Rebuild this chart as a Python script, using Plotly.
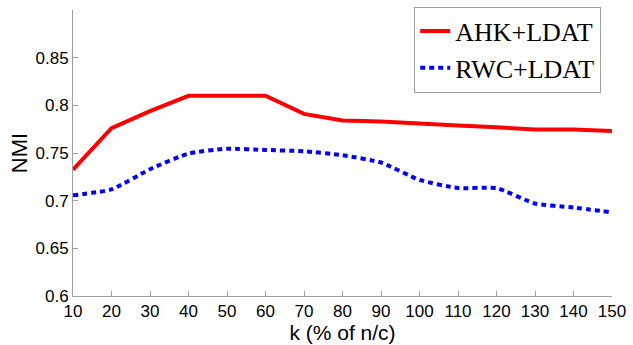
import plotly.graph_objects as go

# k values (% of n/c)
k_values = [10, 20, 30, 40, 50, 60, 70, 80, 90, 100, 110, 120, 130, 140, 150]

# NMI for each method
ahk_ldat = [0.7325, 0.776, 0.794, 0.81, 0.81, 0.81, 0.791, 0.784, 0.783,
            0.7806, 0.7788, 0.777, 0.7746, 0.7746, 0.773]
rwc_ldat = [0.7056, 0.7118, 0.733, 0.7494, 0.7545, 0.7532, 0.7518, 0.7477, 0.740,
            0.7218, 0.7132, 0.7132, 0.697, 0.6928, 0.6877]

y_ticks = [0.6, 0.65, 0.7, 0.75, 0.8, 0.85]
y_tick_text = ["0.6", "0.65", "0.7", "0.75", "0.8", "0.85"]

fig = go.Figure()
fig.add_trace(go.Scatter(
    x=k_values, y=ahk_ldat, mode="lines", name="AHK+LDAT",
    line=dict(color="#ff0000", width=4),
))
fig.add_trace(go.Scatter(
    x=k_values, y=rwc_ldat, mode="lines", name="RWC+LDAT",
    line=dict(color="#0000ff", width=4, dash="5px,4px", shape="spline", smoothing=0.5),
))

axis_common = dict(
    showgrid=False, zeroline=False, showline=True, linecolor="#a0a0a0", linewidth=1,
    ticks="inside", ticklen=5, tickcolor="#a0a0a0", mirror=False,
    tickfont=dict(family="Liberation Sans, Arial, sans-serif", size=17, color="#000000"),
)

fig.update_layout(
    width=633, height=345,
    margin=dict(l=73, r=18, t=7, b=48),
    plot_bgcolor="#ffffff", paper_bgcolor="#ffffff",
    xaxis=dict(
        range=[10, 150], tickmode="array", tickvals=k_values,
        title=dict(text="k (% of n/c)", standoff=2,
                   font=dict(family="Liberation Sans, Arial, sans-serif", size=21, color="#000000")),
        **axis_common,
    ),
    yaxis=dict(
        range=[0.6, 0.9], tickmode="array", tickvals=y_ticks, ticktext=y_tick_text,
        title=dict(text="NMI", standoff=1,
                   font=dict(family="Liberation Sans, Arial, sans-serif", size=22, color="#000000")),
        **axis_common,
    ),
    legend=dict(
        x=0.98, y=1.012, xanchor="right", yanchor="top",
        bgcolor="#ffffff", bordercolor="#a0a0a0", borderwidth=1,
        font=dict(family="Liberation Serif, Times New Roman, serif", size=26, color="#000000"),
        itemwidth=30, tracegroupgap=0,
    ),
    showlegend=True,
)

fig.write_html("out.html")
